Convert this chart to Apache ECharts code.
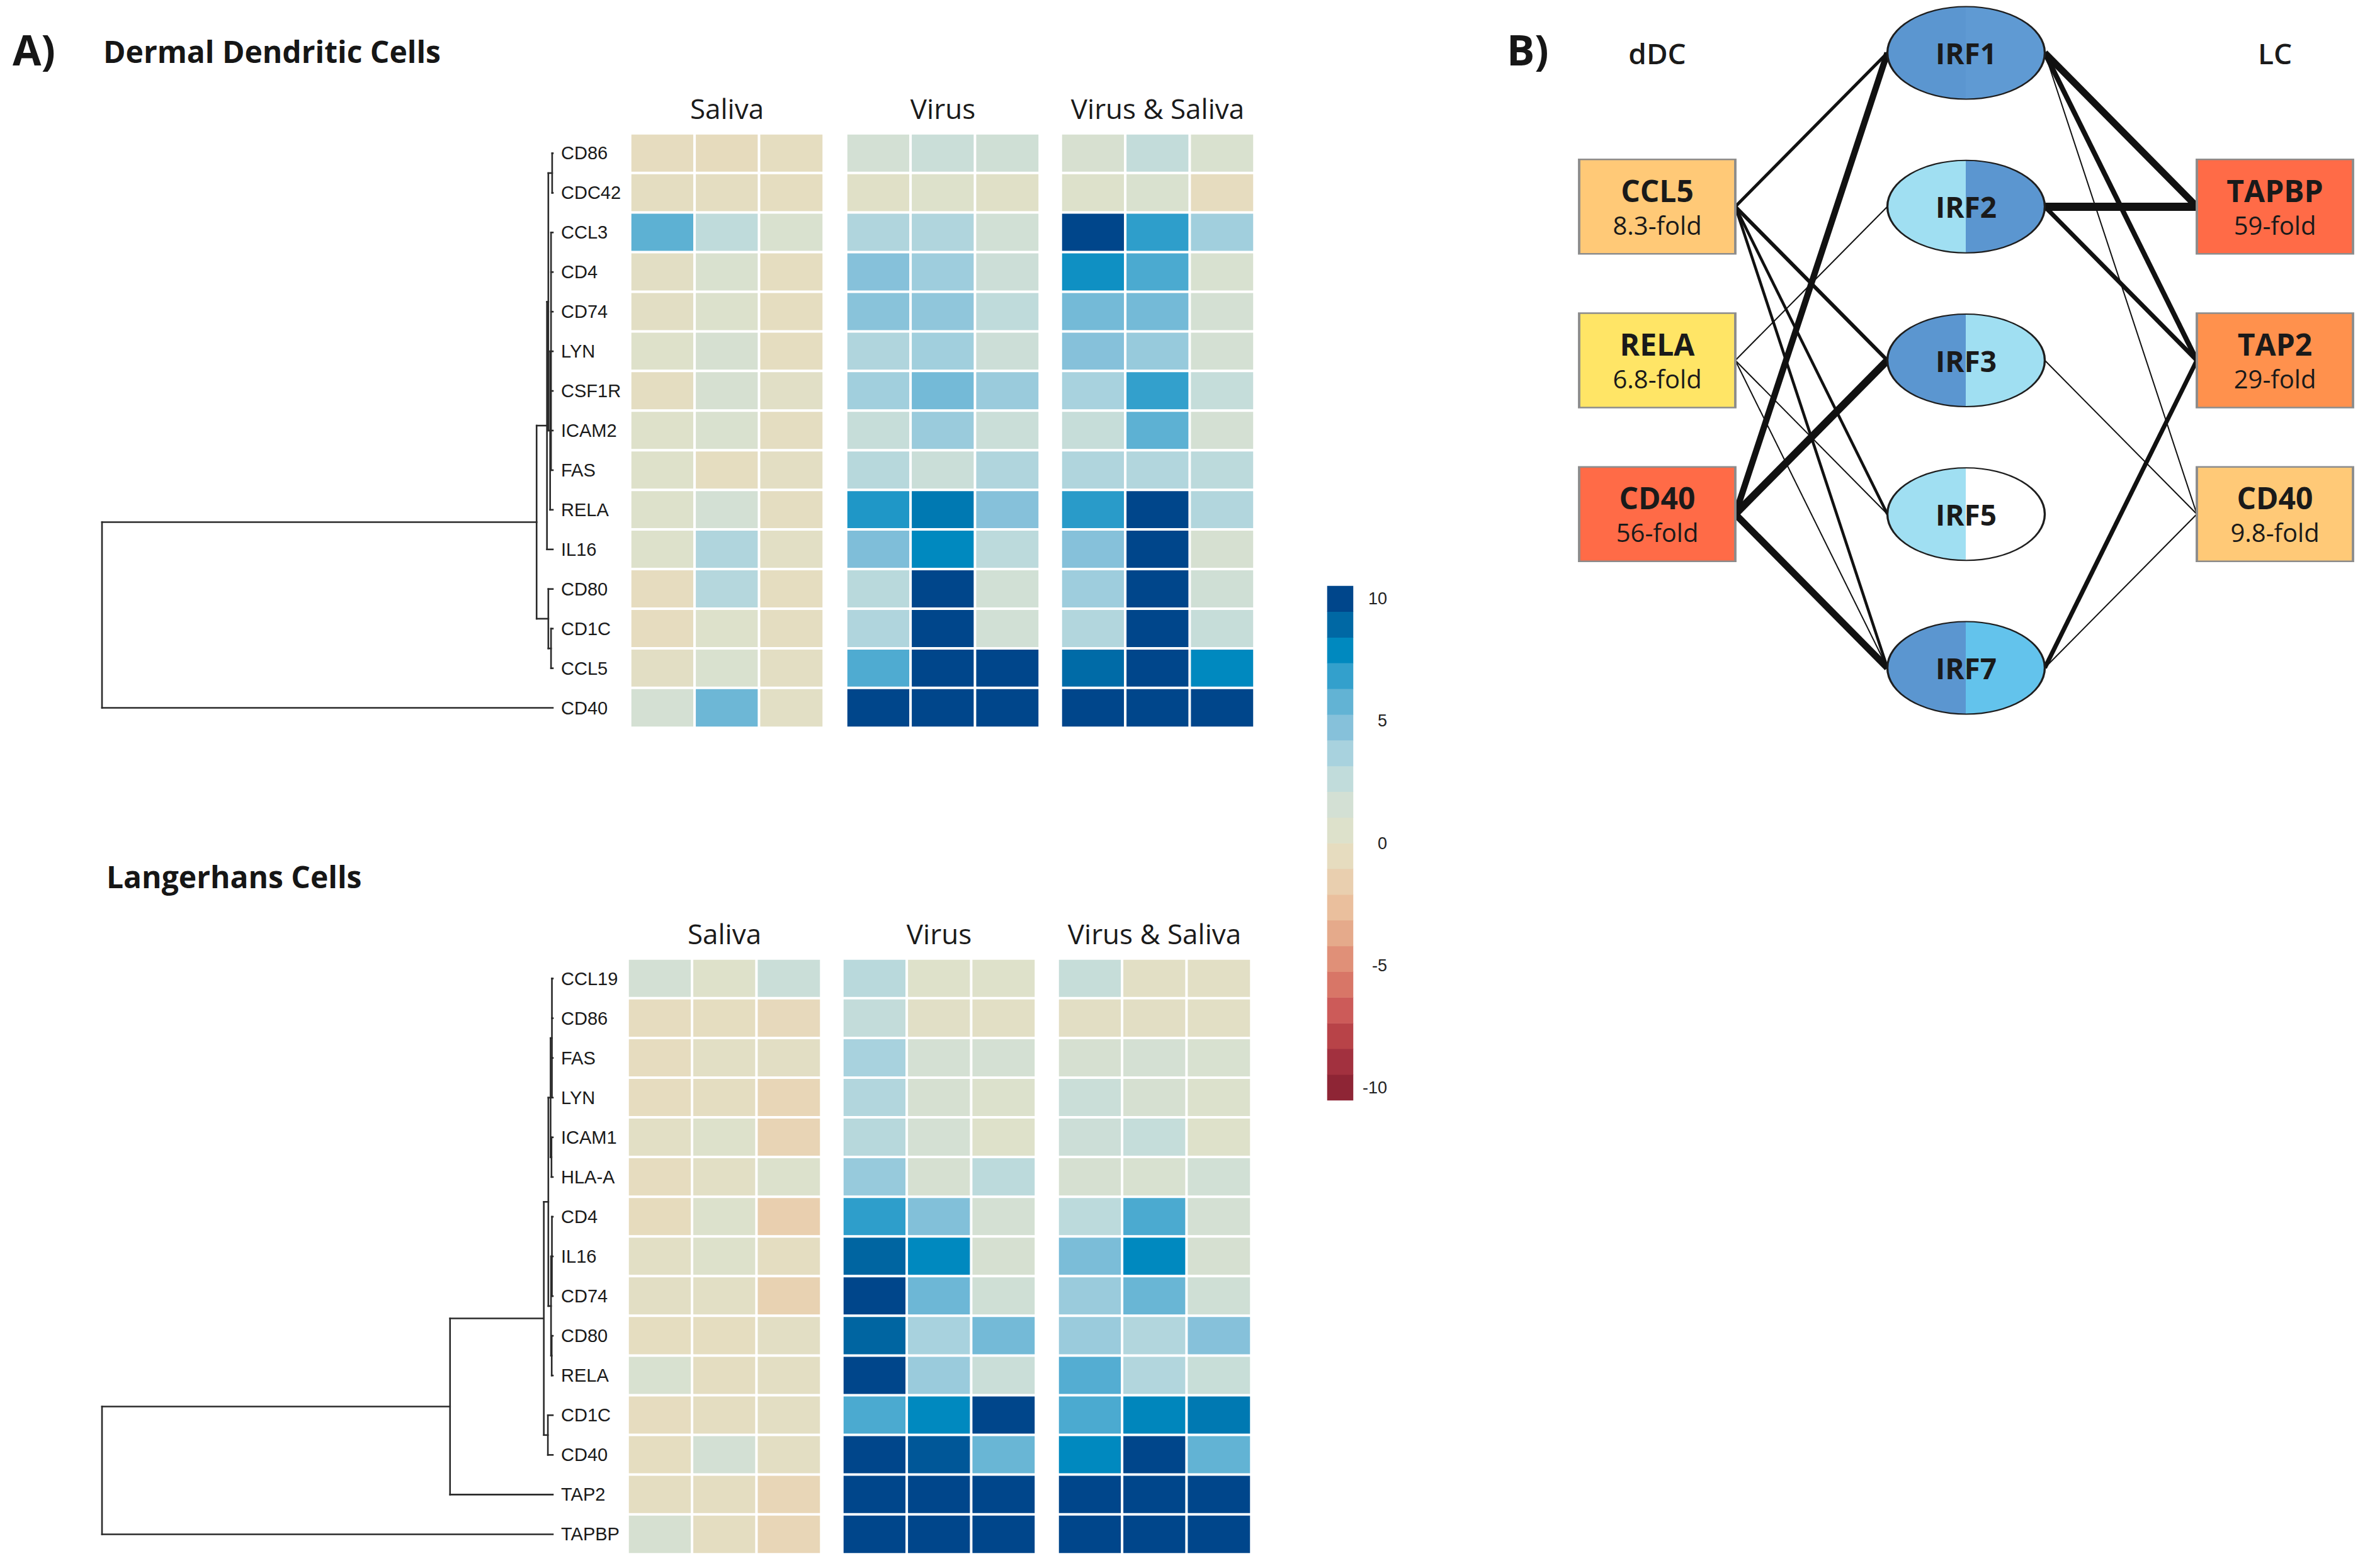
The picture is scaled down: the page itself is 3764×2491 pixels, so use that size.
<!DOCTYPE html>
<html>
<head>
<meta charset="utf-8">
<script src="https://cdn.jsdelivr.net/npm/echarts@6/dist/echarts.min.js"></script>
<style>html,body{margin:0;padding:0;background:#fff}#c{width:3764px;height:2491px}</style>
</head>
<body>
<div id="c"></div>
<script>
// ---------------- DATA ----------------
const conditions = ['Saliva', 'Virus', 'Virus & Saliva'];
const replicates = ['1', '2', '3'];

const ddcGenes = ['CD86','CDC42','CCL3','CD4','CD74','LYN','CSF1R','ICAM2','FAS','RELA','IL16','CD80','CD1C','CCL5','CD40'];
const ddcSaliva = [[-0.5,-0.6,-0.4],[-0.3,-0.3,-0.4],[5.6,2.6,0.9],[-0.1,0.9,-0.4],[-0.1,0.6,-0.4],[0.4,1.2,-0.4],[-0.3,1.2,0.1],[0.4,0.9,-0.3],[0.4,-0.4,-0.2],[0.5,1.5,-0.3],[0.5,3.2,0.0],[-0.5,3.0,-0.4],[-0.5,0.5,-0.3],[-0.1,0.9,-0.2],[1.4,5.2,0.0]];
const ddcVirus  = [[1.5,2.0,1.7],[0.2,0.5,0.2],[3.2,3.2,1.6],[4.5,3.8,1.9],[4.4,4.2,2.6],[3.2,3.7,1.9],[3.7,5.0,3.9],[2.2,3.9,2.0],[2.9,2.0,3.2],[6.9,8.0,4.5],[4.7,7.5,2.7],[2.8,10,1.6],[3.2,10,1.6],[5.9,10,9.6],[10,10,10]];
const ddcBoth   = [[1.1,2.4,0.9],[0.5,0.9,-0.5],[10,6.6,3.7],[7.2,6.0,1.0],[5.0,5.0,1.4],[4.5,4.0,1.4],[3.5,6.5,2.3],[2.2,5.6,1.4],[3.2,3.1,2.7],[6.7,10,3.1],[4.5,10,1.2],[3.8,10,1.7],[3.1,10,2.2],[8.4,10,7.5],[10,10,10]];

const lcGenes = ['CCL19','CD86','FAS','LYN','ICAM1','HLA-A','CD4','IL16','CD74','CD80','RELA','CD1C','CD40','TAP2','TAPBP'];
const lcSaliva = [[1.5,0.4,2.0],[-0.5,-0.4,-0.7],[-0.5,0.0,-0.1],[-0.5,-0.3,-1.0],[0.0,0.5,-1.1],[-0.5,0.0,0.6],[-0.6,0.6,-1.5],[0.0,0.5,-0.3],[-0.1,0.0,-1.3],[-0.4,-0.4,-0.1],[1.0,-0.3,-0.2],[-0.5,-0.3,-0.2],[-0.4,1.5,-0.2],[-0.3,-0.3,-1.0],[1.2,-0.3,-1.0]];
const lcVirus  = [[2.8,0.4,0.4],[2.4,0.1,0.0],[3.5,1.4,1.4],[3.1,1.2,0.6],[2.9,1.4,0.4],[4.0,1.2,2.7],[6.6,4.6,1.4],[8.6,7.5,1.2],[10,5.2,1.7],[8.6,3.5,5.0],[10,3.9,2.0],[6.0,7.5,10],[10,9.0,5.3],[10,10,10],[10,10,10]];
const lcBoth   = [[2.2,0.0,0.0],[-0.1,-0.1,0.0],[1.2,1.4,1.0],[2.0,1.2,0.6],[1.9,2.3,0.4],[1.2,1.0,1.6],[2.7,6.0,1.4],[4.8,7.5,1.2],[3.9,5.3,1.7],[3.9,3.1,4.5],[5.8,3.1,2.1],[6.0,7.6,8.0],[7.5,10,5.5],[10,10,10],[10,10,10]];

// dendrograms: [height, [children]] ; a number is a leaf (row index)
const ddcTree = [100, [[3.6, [[1.3, [[1.0, [[0.15, [0, 1]], [0.6, [[0.4, [2, 3, 4, 5, 6, 7, 8]], 9]]]], 10]], [1.0, [11, [0.4, [12, 13]]]]]], 14]];
const lcTree  = [100, [[22.8, [[2.0, [[1.0, [[0.5, [[0.2, [0, 1, 2, 3]], [0.3, [4, 5]]]], [0.4, [[0.2, [6, 7, 8]], [0.25, [9, 10]]]]]], [1.1, [11, 12]]]], 13]], 14]];

// colour scale (20 bins from -10 to 10)
const colorBins = [-9.5,-8.5,-7.5,-6.5,-5.5,-4.5,-3.5,-2.5,-1.5,-0.5,0.5,1.5,2.5,3.5,4.5,5.5,6.5,7.5,8.5,9.5];
const binColors = ['#8E2535','#A2313F','#B84348','#CC5B59','#D87667','#E09078','#E5AA8B','#EABF9D','#E9CFAF','#E6DCBF','#DDE1CB','#D3E0D4','#C1DCDB','#A8D2DE','#86C1DA','#62B3D4','#33A0CC','#0089BF','#0068A4','#00468B'];
const colorTicks = [-10, -5, 0, 5, 10];

// network (panel B)
const irfNames = ['IRF1','IRF2','IRF3','IRF5','IRF7'];
const irfRows = [0, 1, 2, 3, 4];
const irfLeftColor  = ['#5B96D0','#A0DFF2','#5B96D0','#A0DFF2','#5B96D0'];
const irfRightColor = ['#5F9AD3','#5B96D0','#A0DFF2','#FFFFFF','#63C3EC'];
const ddcTargets = ['CCL5','RELA','CD40'];
const ddcFold = ['8.3-fold','6.8-fold','56-fold'];
const ddcRows = [1, 2, 3];
const ddcColors = ['#FFC977','#FFE566','#FF6B47'];
const lcTargets = ['TAPBP','TAP2','CD40'];
const lcFold = ['59-fold','29-fold','9.8-fold'];
const lcRows = [1, 2, 3];
const lcColors = ['#FF6B47','#FF914D','#FFC977'];
// [dDC gene, IRF, line weight]
const ddcEdges = [['CCL5','IRF1',5],['CCL5','IRF3',6],['CCL5','IRF5',4.5],['CCL5','IRF7',4.5],['RELA','IRF2',2],['RELA','IRF5',2],['RELA','IRF7',2],['CD40','IRF1',10],['CD40','IRF3',12],['CD40','IRF7',11]];
// [IRF, LC gene, line weight]
const lcEdges = [['IRF1','TAPBP',11],['IRF1','TAP2',8],['IRF1','CD40',2],['IRF2','TAPBP',13],['IRF2','TAP2',7],['IRF3','CD40',2],['IRF7','TAP2',7],['IRF7','CD40',2]];

// ---------------- LAYOUT ----------------
const FONT = '"Open Sans", "DejaVu Sans", sans-serif';
const LFONT = '"Liberation Sans", Arial, sans-serif';
const labelX = 891;
const topPanel = {top: 212, height: 944, lefts: [1001, 1344, 1685], width: 307, headerY: 172};
const botPanel = {top: 1523, height: 946, lefts: [997, 1338, 1680], width: 307, headerY: 1483};
const dendroLeft = 162, dendroRight = 878;

const grids = [], xAxes = [], yAxes = [], series = [], heatIdx = [], graphics = [];
function addGrid(g) { grids.push(Object.assign({outerBoundsMode: 'none', containLabel: false, show: false}, g)); return grids.length - 1; }

function heatPanel(genes, blocks, P) {
  blocks.forEach((vals, b) => {
    const gi = addGrid({left: P.lefts[b], top: P.top, width: P.width, height: P.height});
    xAxes.push({gridIndex: gi, type: 'category', data: replicates, show: false});
    yAxes.push({gridIndex: gi, type: 'category', data: genes, inverse: true, show: b === 0,
      axisLine: {show: false}, axisTick: {show: false}, splitLine: {show: false},
      axisLabel: {show: b === 0, align: 'left', margin: P.lefts[0] - labelX, fontSize: 29, fontFamily: LFONT, color: '#1a1a1a'}});
    const data = [];
    vals.forEach((row, r) => row.forEach((v, c) => data.push([c, r, v])));
    heatIdx.push(series.length);
    series.push({type: 'heatmap', xAxisIndex: xAxes.length - 1, yAxisIndex: yAxes.length - 1, data,
      itemStyle: {borderColor: '#ffffff', borderWidth: 4}, emphasis: {disabled: true}, silent: true});
    graphics.push({type: 'text', x: P.lefts[b] + P.width / 2, y: P.headerY,
      style: {text: conditions[b], fontSize: 44, fontFamily: FONT, fill: '#1a1a1a', textAlign: 'center', textVerticalAlign: 'middle', align: 'center', verticalAlign: 'middle'}});
  });
}

function dendro(tree, P) {
  const gi = addGrid({left: dendroLeft, top: P.top, width: dendroRight - dendroLeft, height: P.height});
  xAxes.push({gridIndex: gi, type: 'value', min: 0, max: 100, inverse: true, show: false});
  yAxes.push({gridIndex: gi, type: 'value', min: 0, max: 15, inverse: true, show: false});
  const segs = [];
  function walk(n) {
    if (typeof n === 'number') return {h: 0, y: n + 0.5};
    const h = n[0], ls = n[1].map(walk);
    const y0 = ls[0].y, y1 = ls[ls.length - 1].y;
    segs.push([h, y0, h, y1]);
    ls.forEach(l => segs.push([l.h, l.y, h, l.y]));
    return {h, y: (y0 + y1) / 2};
  }
  walk(tree);
  series.push({type: 'custom', xAxisIndex: xAxes.length - 1, yAxisIndex: yAxes.length - 1, data: segs, silent: true, clip: false,
    renderItem: (params, api) => {
      const p1 = api.coord([api.value(0), api.value(1)]);
      const p2 = api.coord([api.value(2), api.value(3)]);
      return {type: 'line', shape: {x1: p1[0], y1: p1[1], x2: p2[0], y2: p2[1]}, style: {stroke: '#2a2a2a', lineWidth: 2.6, lineCap: 'square'}};
    }});
}

heatPanel(ddcGenes, [ddcSaliva, ddcVirus, ddcBoth], topPanel);
dendro(ddcTree, topPanel);
heatPanel(lcGenes, [lcSaliva, lcVirus, lcBoth], botPanel);
dendro(lcTree, botPanel);

// colour bar
const cbTop = 931, cbH = 817, cbLeft = 2108, cbW = 41;
const gcb = addGrid({left: cbLeft, top: cbTop, width: cbW, height: cbH});
xAxes.push({gridIndex: gcb, type: 'category', data: ['c'], show: false});
yAxes.push({gridIndex: gcb, type: 'category', data: colorBins.map(String), show: false});
heatIdx.push(series.length);
series.push({type: 'heatmap', xAxisIndex: xAxes.length - 1, yAxisIndex: yAxes.length - 1,
  data: colorBins.map((v, i) => [0, i, v]), itemStyle: {borderWidth: 0}, emphasis: {disabled: true}, silent: true});
const binH = cbH / colorBins.length;
const gcl = addGrid({left: cbLeft, top: cbTop + binH / 2, width: cbW, height: cbH - binH});
xAxes.push({gridIndex: gcl, type: 'value', min: 0, max: 1, show: false});
yAxes.push({gridIndex: gcl, type: 'value', min: colorTicks[0], max: colorTicks[colorTicks.length - 1], interval: 5, position: 'right',
  axisLine: {show: false}, axisTick: {show: false}, splitLine: {show: false},
  axisLabel: {align: 'right', margin: 54, fontSize: 27, fontFamily: LFONT, color: '#222'}});

// network
const netLeft = 2632, netTop = 84, netW = 981, netH = 977;
const gn = addGrid({left: netLeft, top: netTop, width: netW, height: netH});
xAxes.push({gridIndex: gn, type: 'value', min: 0, max: 2, show: false});
yAxes.push({gridIndex: gn, type: 'value', min: 0, max: 4, inverse: true, show: false});
const pxPerX = netW / 2;
const boxW = 248, boxH = 150, ellW = 250, ellH = 147;
const bdx = boxW / 2 / pxPerX, edx = ellW / 2 / pxPerX;
const ellipsePath = 'path://M0,50 C0,22.4 22.4,0 50,0 C77.6,0 100,22.4 100,50 C100,77.6 77.6,100 50,100 C22.4,100 0,77.6 0,50 Z';
const nodes = [];
const boxRich = {
  b: {fontSize: 48, fontWeight: 'bold', fontFamily: FONT, color: '#1a1a1a', lineHeight: 58},
  f: {fontSize: 40, fontFamily: FONT, color: '#1a1a1a', lineHeight: 52}
};
function boxNode(id, name, fold, x, y, color) {
  nodes.push({name: id, value: [x, y], symbol: 'rect', symbolSize: [boxW, boxH],
    itemStyle: {color, borderColor: '#8c8c8c', borderWidth: 3},
    label: {show: true, position: 'inside', formatter: '{b|' + name + '}\n{f|' + fold + '}', rich: boxRich}});
}
function anchor(id, x, y) { nodes.push({name: id, value: [x, y], symbolSize: 0, label: {show: false}}); }
ddcTargets.forEach((g, i) => { boxNode('L:' + g, g, ddcFold[i], 0, ddcRows[i], ddcColors[i]); anchor('L:' + g + ':a', bdx, ddcRows[i]); });
lcTargets.forEach((g, i) => { boxNode('R:' + g, g, lcFold[i], 2, lcRows[i], lcColors[i]); anchor('R:' + g + ':a', 2 - bdx, lcRows[i]); });
irfNames.forEach((n, i) => {
  nodes.push({name: n, value: [1, irfRows[i]], symbol: ellipsePath, symbolSize: [ellW, ellH],
    itemStyle: {color: {type: 'linear', x: 0, y: 0, x2: 1, y2: 0, colorStops: [
      {offset: 0, color: irfLeftColor[i]}, {offset: 0.5, color: irfLeftColor[i]},
      {offset: 0.5, color: irfRightColor[i]}, {offset: 1, color: irfRightColor[i]}]},
      borderColor: '#1e1e1e', borderWidth: 2.6},
    label: {show: true, position: 'inside', formatter: n, fontSize: 46, fontWeight: 'bold', fontFamily: FONT, color: '#1a1a1a'}});
  anchor(n + ':l', 1 - edx, irfRows[i]);
  anchor(n + ':r', 1 + edx, irfRows[i]);
});
[['dDC', 0], ['LC', 2]].forEach(([t, x]) => {
  nodes.push({name: 'hdr:' + t, value: [x, 0], symbolSize: 1, itemStyle: {color: 'rgba(0,0,0,0)'},
    label: {show: true, position: 'inside', formatter: t, fontSize: 46, fontWeight: 600, fontFamily: FONT, color: '#1a1a1a'}});
});
const links = [];
ddcEdges.forEach(([g, irf, w]) => links.push({source: 'L:' + g + ':a', target: irf + ':l', lineStyle: {width: w}}));
lcEdges.forEach(([irf, g, w]) => links.push({source: irf + ':r', target: 'R:' + g + ':a', lineStyle: {width: w}}));
series.push({type: 'graph', coordinateSystem: 'cartesian2d', xAxisIndex: xAxes.length - 1, yAxisIndex: yAxes.length - 1,
  layout: 'none', roam: false, data: nodes, links, edgeSymbol: ['none', 'none'],
  lineStyle: {color: '#111', opacity: 1, curveness: 0}, emphasis: {disabled: true}, silent: true, z: 3});

// titles
const titleStyle = (t, size) => ({text: t, fontSize: size, fontWeight: 'bold', fontFamily: FONT, fill: '#161616', textVerticalAlign: 'middle', verticalAlign: 'middle'});
graphics.push({type: 'text', x: 20, y: 78, style: titleStyle('A)', 66)});
graphics.push({type: 'text', x: 164, y: 81, style: titleStyle('Dermal Dendritic Cells', 48)});
graphics.push({type: 'text', x: 169, y: 1392, style: titleStyle('Langerhans Cells', 48)});
graphics.push({type: 'text', x: 2393, y: 78, style: titleStyle('B)', 66)});

const chart = echarts.init(document.getElementById('c'), null, {renderer: 'svg', width: 3764, height: 2491});
chart.setOption({
  animation: false,
  backgroundColor: '#ffffff',
  grid: grids,
  xAxis: xAxes,
  yAxis: yAxes,
  visualMap: [{type: 'continuous', show: false, min: colorBins[0], max: colorBins[colorBins.length - 1], dimension: 2,
    seriesIndex: heatIdx, inRange: {color: binColors}}],
  graphic: graphics,
  series
});
</script>
</body>
</html>
